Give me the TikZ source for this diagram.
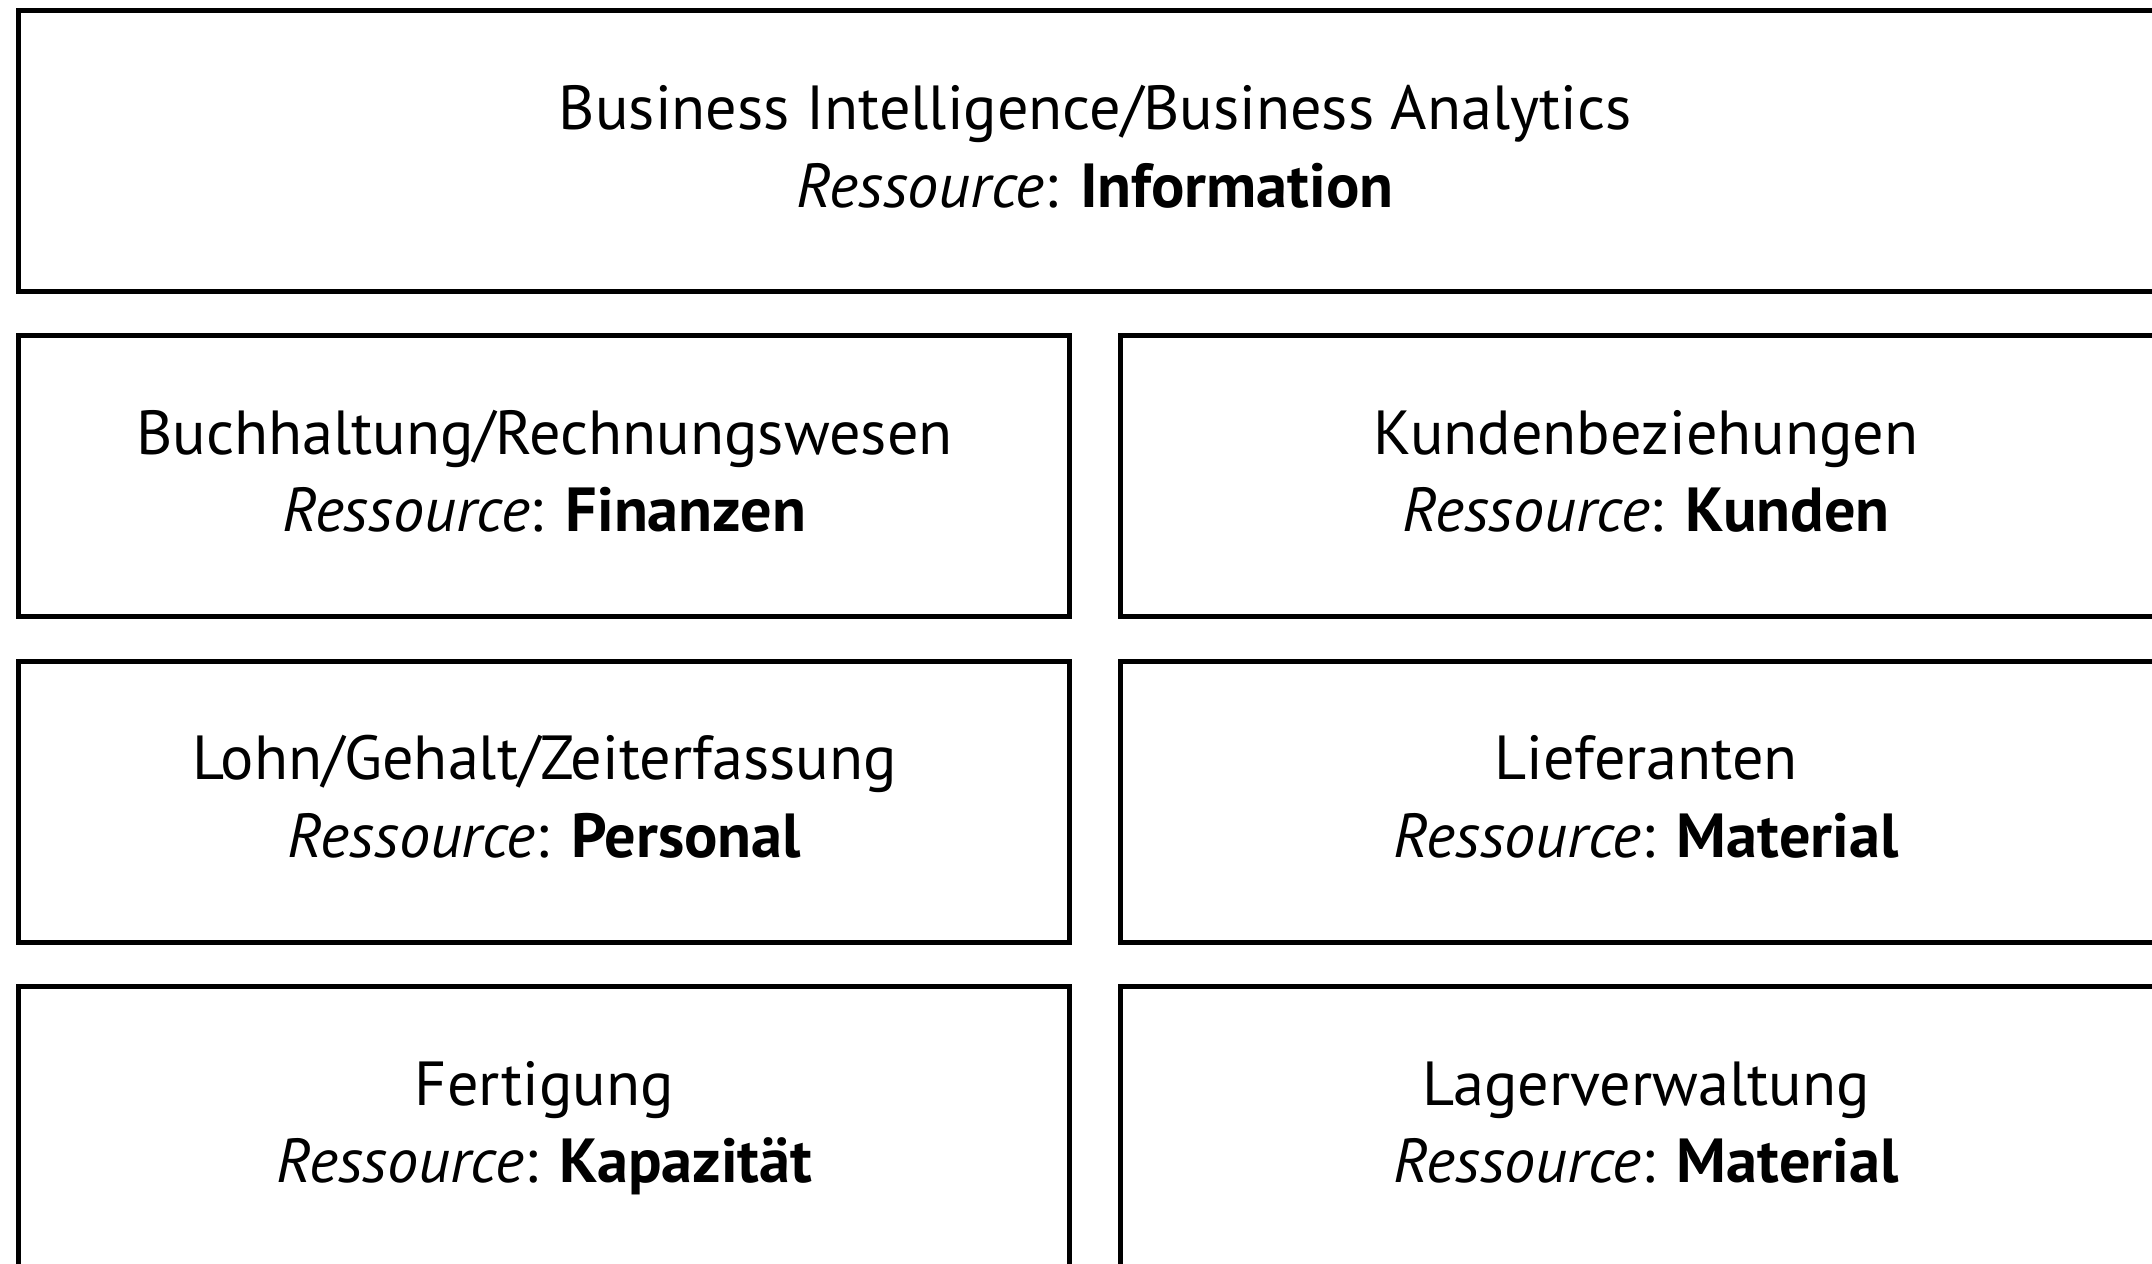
\documentclass[tikz,border=0pt]{standalone}
\usepackage{fontspec}
\setmainfont{PT Sans}
\newlength\reflen
\begin{document}
\settowidth\reflen{\fontsize{10pt}{12pt}\selectfont Business Intelligence/Business Analytics}%
\pgfmathsetmacro\fsz{10*305/\reflen}%
\begin{tikzpicture}[x=0.01cm,y=-0.01cm]
\tikzset{
  box/.style={draw=black, line width=0.05cm, fill=white, inner sep=0pt, outer sep=0pt,
              minimum width=10.502cm, minimum height=2.81cm},
  wide/.style={box, minimum width=21.517cm},
  txt/.style={anchor=base, inner sep=0pt, outer sep=0pt, font=\fontsize{\fsz pt}{\fsz pt}\selectfont}
}
\useasboundingbox (0,0) rectangle (2152,1263);
\fill[white] (0,0) rectangle (2152,1263);
\clip (0,0) rectangle (2152,1263);
% boxes
\node[wide] (top) at (1095.15,151.3) {};
\node[box] (bl1) at (544.4,476.3) {};
\node[box] (br1) at (1646.1,476.3) {};
\node[box] (bl2) at (544.4,801.8) {};
\node[box] (br2) at (1646.1,801.8) {};
\node[box] (bl3) at (544.4,1127.3) {};
\node[box] (br3) at (1646.1,1127.3) {};
% texts
\node[txt] (topa) at ([yshift=-1.190cm]top.north) {Business Intelligence/Business Analytics};
\node[txt] (topb) at ([yshift=-1.965cm]top.north) {\textit{Ressource}: \textbf{Information}};
\node[txt] (bl1a) at ([yshift=-1.182cm]bl1.north) {Buchhaltung/Rechnungswesen};
\node[txt] (bl1b) at ([yshift=-1.959cm]bl1.north) {\textit{Ressource}: \textbf{Finanzen}};
\node[txt] (br1a) at ([yshift=-1.182cm]br1.north) {Kundenbeziehungen};
\node[txt] (br1b) at ([yshift=-1.959cm]br1.north) {\textit{Ressource}: \textbf{Kunden}};
\node[txt] (bl2a) at ([yshift=-1.182cm]bl2.north) {Lohn/Gehalt/Zeiterfassung};
\node[txt] (bl2b) at ([yshift=-1.959cm]bl2.north) {\textit{Ressource}: \textbf{Personal}};
\node[txt] (br2a) at ([yshift=-1.182cm]br2.north) {Lieferanten};
\node[txt] (br2b) at ([yshift=-1.959cm]br2.north) {\textit{Ressource}: \textbf{Material}};
\node[txt] (bl3a) at ([yshift=-1.182cm]bl3.north) {Fertigung};
\node[txt] (bl3b) at ([yshift=-1.959cm]bl3.north) {\textit{Ressource}: \textbf{Kapazität}};
\node[txt] (br3a) at ([yshift=-1.182cm]br3.north) {Lagerverwaltung};
\node[txt] (br3b) at ([yshift=-1.959cm]br3.north) {\textit{Ressource}: \textbf{Material}};
\end{tikzpicture}
\end{document}
